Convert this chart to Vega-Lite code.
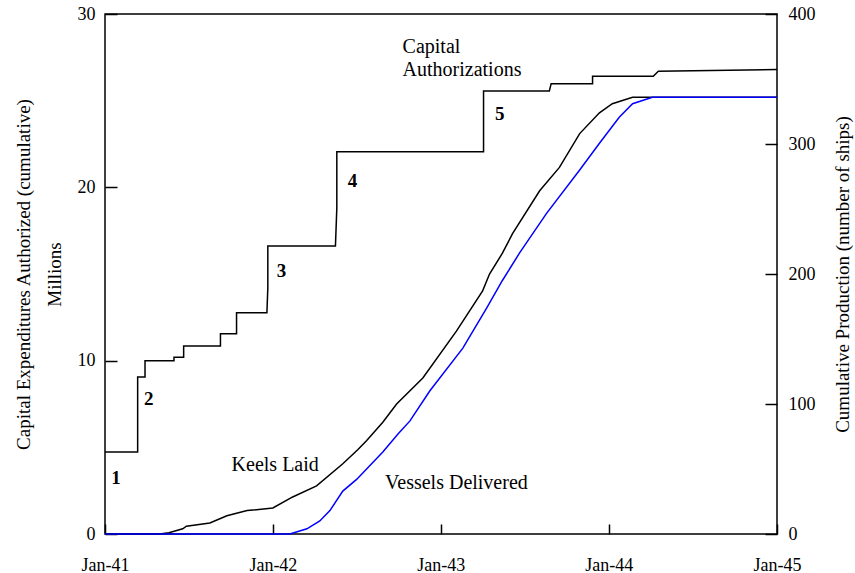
{
  "$schema": "https://vega.github.io/schema/vega-lite/v6.json",
  "width": 672,
  "height": 520,
  "autosize": {"type": "none"},
  "padding": {"left": 105, "top": 14, "right": 78, "bottom": 39},
  "config": {
    "font": "Liberation Serif",
    "view": {"stroke": "black", "strokeWidth": 1.5},
    "style": {
      "guide-label": {"font": "Liberation Serif", "fill": "black"},
      "guide-title": {"font": "Liberation Serif", "fill": "black"}
    },
    "axis": {
      "domain": false,
      "grid": false,
      "tickColor": "black",
      "tickWidth": 1.5,
      "labelColor": "black",
      "titleColor": "black",
      "labelFont": "Liberation Serif",
      "titleFont": "Liberation Serif",
      "labelFontSize": 18,
      "titleFontSize": 19,
      "titleFontWeight": "normal"
    }
  },
  "datasets": {
    "capital": [
      {"i": 1, "date": "1941-01-01", "value": 4.73},
      {"i": 2, "date": "1941-03-13", "value": 4.73},
      {"i": 3, "date": "1941-03-13", "value": 9.06},
      {"i": 4, "date": "1941-03-29", "value": 9.06},
      {"i": 5, "date": "1941-03-29", "value": 10.0},
      {"i": 6, "date": "1941-05-31", "value": 10.0},
      {"i": 7, "date": "1941-05-31", "value": 10.2},
      {"i": 8, "date": "1941-06-21", "value": 10.2},
      {"i": 9, "date": "1941-06-21", "value": 10.85},
      {"i": 10, "date": "1941-09-09", "value": 10.85},
      {"i": 11, "date": "1941-09-09", "value": 11.55},
      {"i": 12, "date": "1941-10-14", "value": 11.55},
      {"i": 13, "date": "1941-10-14", "value": 12.77},
      {"i": 14, "date": "1941-12-19", "value": 12.77},
      {"i": 15, "date": "1941-12-21", "value": 14.2},
      {"i": 16, "date": "1941-12-21", "value": 16.62},
      {"i": 17, "date": "1942-05-17", "value": 16.62},
      {"i": 18, "date": "1942-05-20", "value": 18.8},
      {"i": 19, "date": "1942-05-20", "value": 22.05},
      {"i": 20, "date": "1943-04-04", "value": 22.05},
      {"i": 21, "date": "1943-04-04", "value": 25.56},
      {"i": 22, "date": "1943-08-25", "value": 25.56},
      {"i": 23, "date": "1943-08-29", "value": 25.98},
      {"i": 24, "date": "1943-11-27", "value": 25.98},
      {"i": 25, "date": "1943-11-27", "value": 26.41},
      {"i": 26, "date": "1944-04-07", "value": 26.41},
      {"i": 27, "date": "1944-04-18", "value": 26.7},
      {"i": 28, "date": "1945-01-01", "value": 26.8}
    ],
    "production": [
      {"series": "Keels Laid", "date": "1941-01-01", "ships": 0},
      {"series": "Keels Laid", "date": "1941-04-30", "ships": 0},
      {"series": "Keels Laid", "date": "1941-05-20", "ships": 1},
      {"series": "Keels Laid", "date": "1941-06-19", "ships": 4},
      {"series": "Keels Laid", "date": "1941-06-27", "ships": 6},
      {"series": "Keels Laid", "date": "1941-08-17", "ships": 8.5},
      {"series": "Keels Laid", "date": "1941-09-23", "ships": 14},
      {"series": "Keels Laid", "date": "1941-11-06", "ships": 18},
      {"series": "Keels Laid", "date": "1942-01-01", "ships": 20},
      {"series": "Keels Laid", "date": "1942-02-13", "ships": 28.5},
      {"series": "Keels Laid", "date": "1942-04-06", "ships": 37},
      {"series": "Keels Laid", "date": "1942-06-02", "ships": 54},
      {"series": "Keels Laid", "date": "1942-07-05", "ships": 65},
      {"series": "Keels Laid", "date": "1942-07-24", "ships": 72},
      {"series": "Keels Laid", "date": "1942-08-28", "ships": 86},
      {"series": "Keels Laid", "date": "1942-09-27", "ships": 100},
      {"series": "Keels Laid", "date": "1942-11-23", "ships": 120},
      {"series": "Keels Laid", "date": "1943-02-04", "ships": 156},
      {"series": "Keels Laid", "date": "1943-04-02", "ships": 187},
      {"series": "Keels Laid", "date": "1943-04-17", "ships": 200},
      {"series": "Keels Laid", "date": "1943-05-15", "ships": 216},
      {"series": "Keels Laid", "date": "1943-06-06", "ships": 231},
      {"series": "Keels Laid", "date": "1943-08-04", "ships": 264},
      {"series": "Keels Laid", "date": "1943-09-16", "ships": 282},
      {"series": "Keels Laid", "date": "1943-10-30", "ships": 308},
      {"series": "Keels Laid", "date": "1943-12-12", "ships": 324},
      {"series": "Keels Laid", "date": "1944-01-09", "ships": 331},
      {"series": "Keels Laid", "date": "1944-02-22", "ships": 336},
      {"series": "Keels Laid", "date": "1945-01-01", "ships": 336},
      {"series": "Vessels Delivered", "date": "1941-01-01", "ships": 0},
      {"series": "Vessels Delivered", "date": "1942-02-07", "ships": 0},
      {"series": "Vessels Delivered", "date": "1942-03-16", "ships": 4},
      {"series": "Vessels Delivered", "date": "1942-04-13", "ships": 10},
      {"series": "Vessels Delivered", "date": "1942-05-05", "ships": 18},
      {"series": "Vessels Delivered", "date": "1942-06-02", "ships": 33},
      {"series": "Vessels Delivered", "date": "1942-07-02", "ships": 42},
      {"series": "Vessels Delivered", "date": "1942-08-28", "ships": 63},
      {"series": "Vessels Delivered", "date": "1942-09-30", "ships": 77},
      {"series": "Vessels Delivered", "date": "1942-10-26", "ships": 87},
      {"series": "Vessels Delivered", "date": "1942-12-08", "ships": 110},
      {"series": "Vessels Delivered", "date": "1943-02-18", "ships": 143},
      {"series": "Vessels Delivered", "date": "1943-04-11", "ships": 174},
      {"series": "Vessels Delivered", "date": "1943-05-15", "ships": 195},
      {"series": "Vessels Delivered", "date": "1943-06-21", "ships": 216},
      {"series": "Vessels Delivered", "date": "1943-08-19", "ships": 246.6},
      {"series": "Vessels Delivered", "date": "1943-10-30", "ships": 280},
      {"series": "Vessels Delivered", "date": "1943-12-12", "ships": 300.6},
      {"series": "Vessels Delivered", "date": "1944-01-24", "ships": 320.6},
      {"series": "Vessels Delivered", "date": "1944-02-22", "ships": 331},
      {"series": "Vessels Delivered", "date": "1944-04-05", "ships": 336},
      {"series": "Vessels Delivered", "date": "1945-01-01", "ships": 336}
    ],
    "numbers": [
      {"label": "1", "date": "1941-01-25", "value": 3.23},
      {"label": "2", "date": "1941-04-06", "value": 7.76},
      {"label": "3", "date": "1942-01-20", "value": 15.18},
      {"label": "4", "date": "1942-06-23", "value": 20.37},
      {"label": "5", "date": "1943-05-09", "value": 24.23}
    ],
    "toplabel": [
      {"label": "Capital", "date": "1942-10-10", "value": 27.75},
      {"label": "Authorizations", "date": "1942-10-10", "value": 26.43}
    ],
    "curvelabels": [
      {"label": "Keels Laid", "date": "1942-01-06", "value": 3.98},
      {"label": "Vessels Delivered", "date": "1943-02-04", "value": 2.94}
    ]
  },
  "encoding": {
    "x": {
      "field": "date",
      "type": "temporal",
      "scale": {
        "type": "utc",
        "domain": [
          {"year": 1941, "month": 1, "date": 1, "utc": true},
          {"year": 1945, "month": 1, "date": 1, "utc": true}
        ]
      },
      "axis": {
        "orient": "bottom",
        "title": null,
        "labelExpr": "utcFormat(datum.value, '%b-%y')",
        "values": [
          {"year": 1941, "month": 1, "date": 1, "utc": true},
          {"year": 1942, "month": 1, "date": 1, "utc": true},
          {"year": 1943, "month": 1, "date": 1, "utc": true},
          {"year": 1944, "month": 1, "date": 1, "utc": true},
          {"year": 1945, "month": 1, "date": 1, "utc": true}
        ],
        "tickSize": -10,
        "labelPadding": 32,
        "labelFlush": false,
        "labelOverlap": false,
        "labelFont": "Liberation Serif",
        "labelFontSize": 18
      }
    }
  },
  "layer": [
    {
      "encoding": {
        "y": {
          "field": "value",
          "type": "quantitative",
          "scale": {"domain": [0, 30], "nice": false, "zero": true},
          "axis": {
            "orient": "left",
            "values": [0, 10, 20, 30],
            "tickSize": -12,
            "labelPadding": 22,
            "labelFont": "Liberation Serif",
            "labelFontSize": 18,
            "title": ["Capital Expenditures Authorized (cumulative)", "Millions"],
            "titleFont": "Liberation Serif",
            "titleFontSize": 19,
            "titleFontWeight": "normal",
            "titleLineHeight": 31,
            "titlePadding": 13
          }
        }
      },
      "layer": [
        {
          "data": {"name": "capital"},
          "mark": {"type": "line", "color": "black", "strokeWidth": 1.5},
          "encoding": {"order": {"field": "i", "type": "quantitative"}}
        },
        {
          "data": {"name": "numbers"},
          "mark": {"type": "text", "font": "Liberation Serif", "fontSize": 19, "fontWeight": "bold", "align": "center", "baseline": "middle", "color": "black"},
          "encoding": {"text": {"field": "label"}}
        },
        {
          "data": {"name": "toplabel"},
          "mark": {"type": "text", "font": "Liberation Serif", "fontSize": 20, "align": "left", "baseline": "alphabetic", "color": "black"},
          "encoding": {"text": {"field": "label"}}
        },
        {
          "data": {"name": "curvelabels"},
          "mark": {"type": "text", "font": "Liberation Serif", "fontSize": 20, "align": "center", "baseline": "middle", "color": "black"},
          "encoding": {"text": {"field": "label"}}
        }
      ]
    },
    {
      "data": {"name": "production"},
      "mark": {"type": "line", "strokeWidth": 1.5},
      "encoding": {
        "y": {
          "field": "ships",
          "type": "quantitative",
          "scale": {"domain": [0, 400], "nice": false},
          "axis": {
            "orient": "right",
            "values": [0, 100, 200, 300, 400],
            "tickSize": -12,
            "labelPadding": 23,
            "labelAlign": "left",
            "labelFont": "Liberation Serif",
            "labelFontSize": 18,
            "title": "Cumulative Production (number of ships)",
            "titleFont": "Liberation Serif",
            "titleFontSize": 19,
            "titleFontWeight": "normal",
            "titleAngle": 270,
            "titlePadding": 37
          }
        },
        "color": {
          "field": "series",
          "type": "nominal",
          "scale": {"domain": ["Keels Laid", "Vessels Delivered"], "range": ["black", "#0000ff"]},
          "legend": null
        }
      }
    }
  ],
  "resolve": {"scale": {"y": "independent"}}
}
